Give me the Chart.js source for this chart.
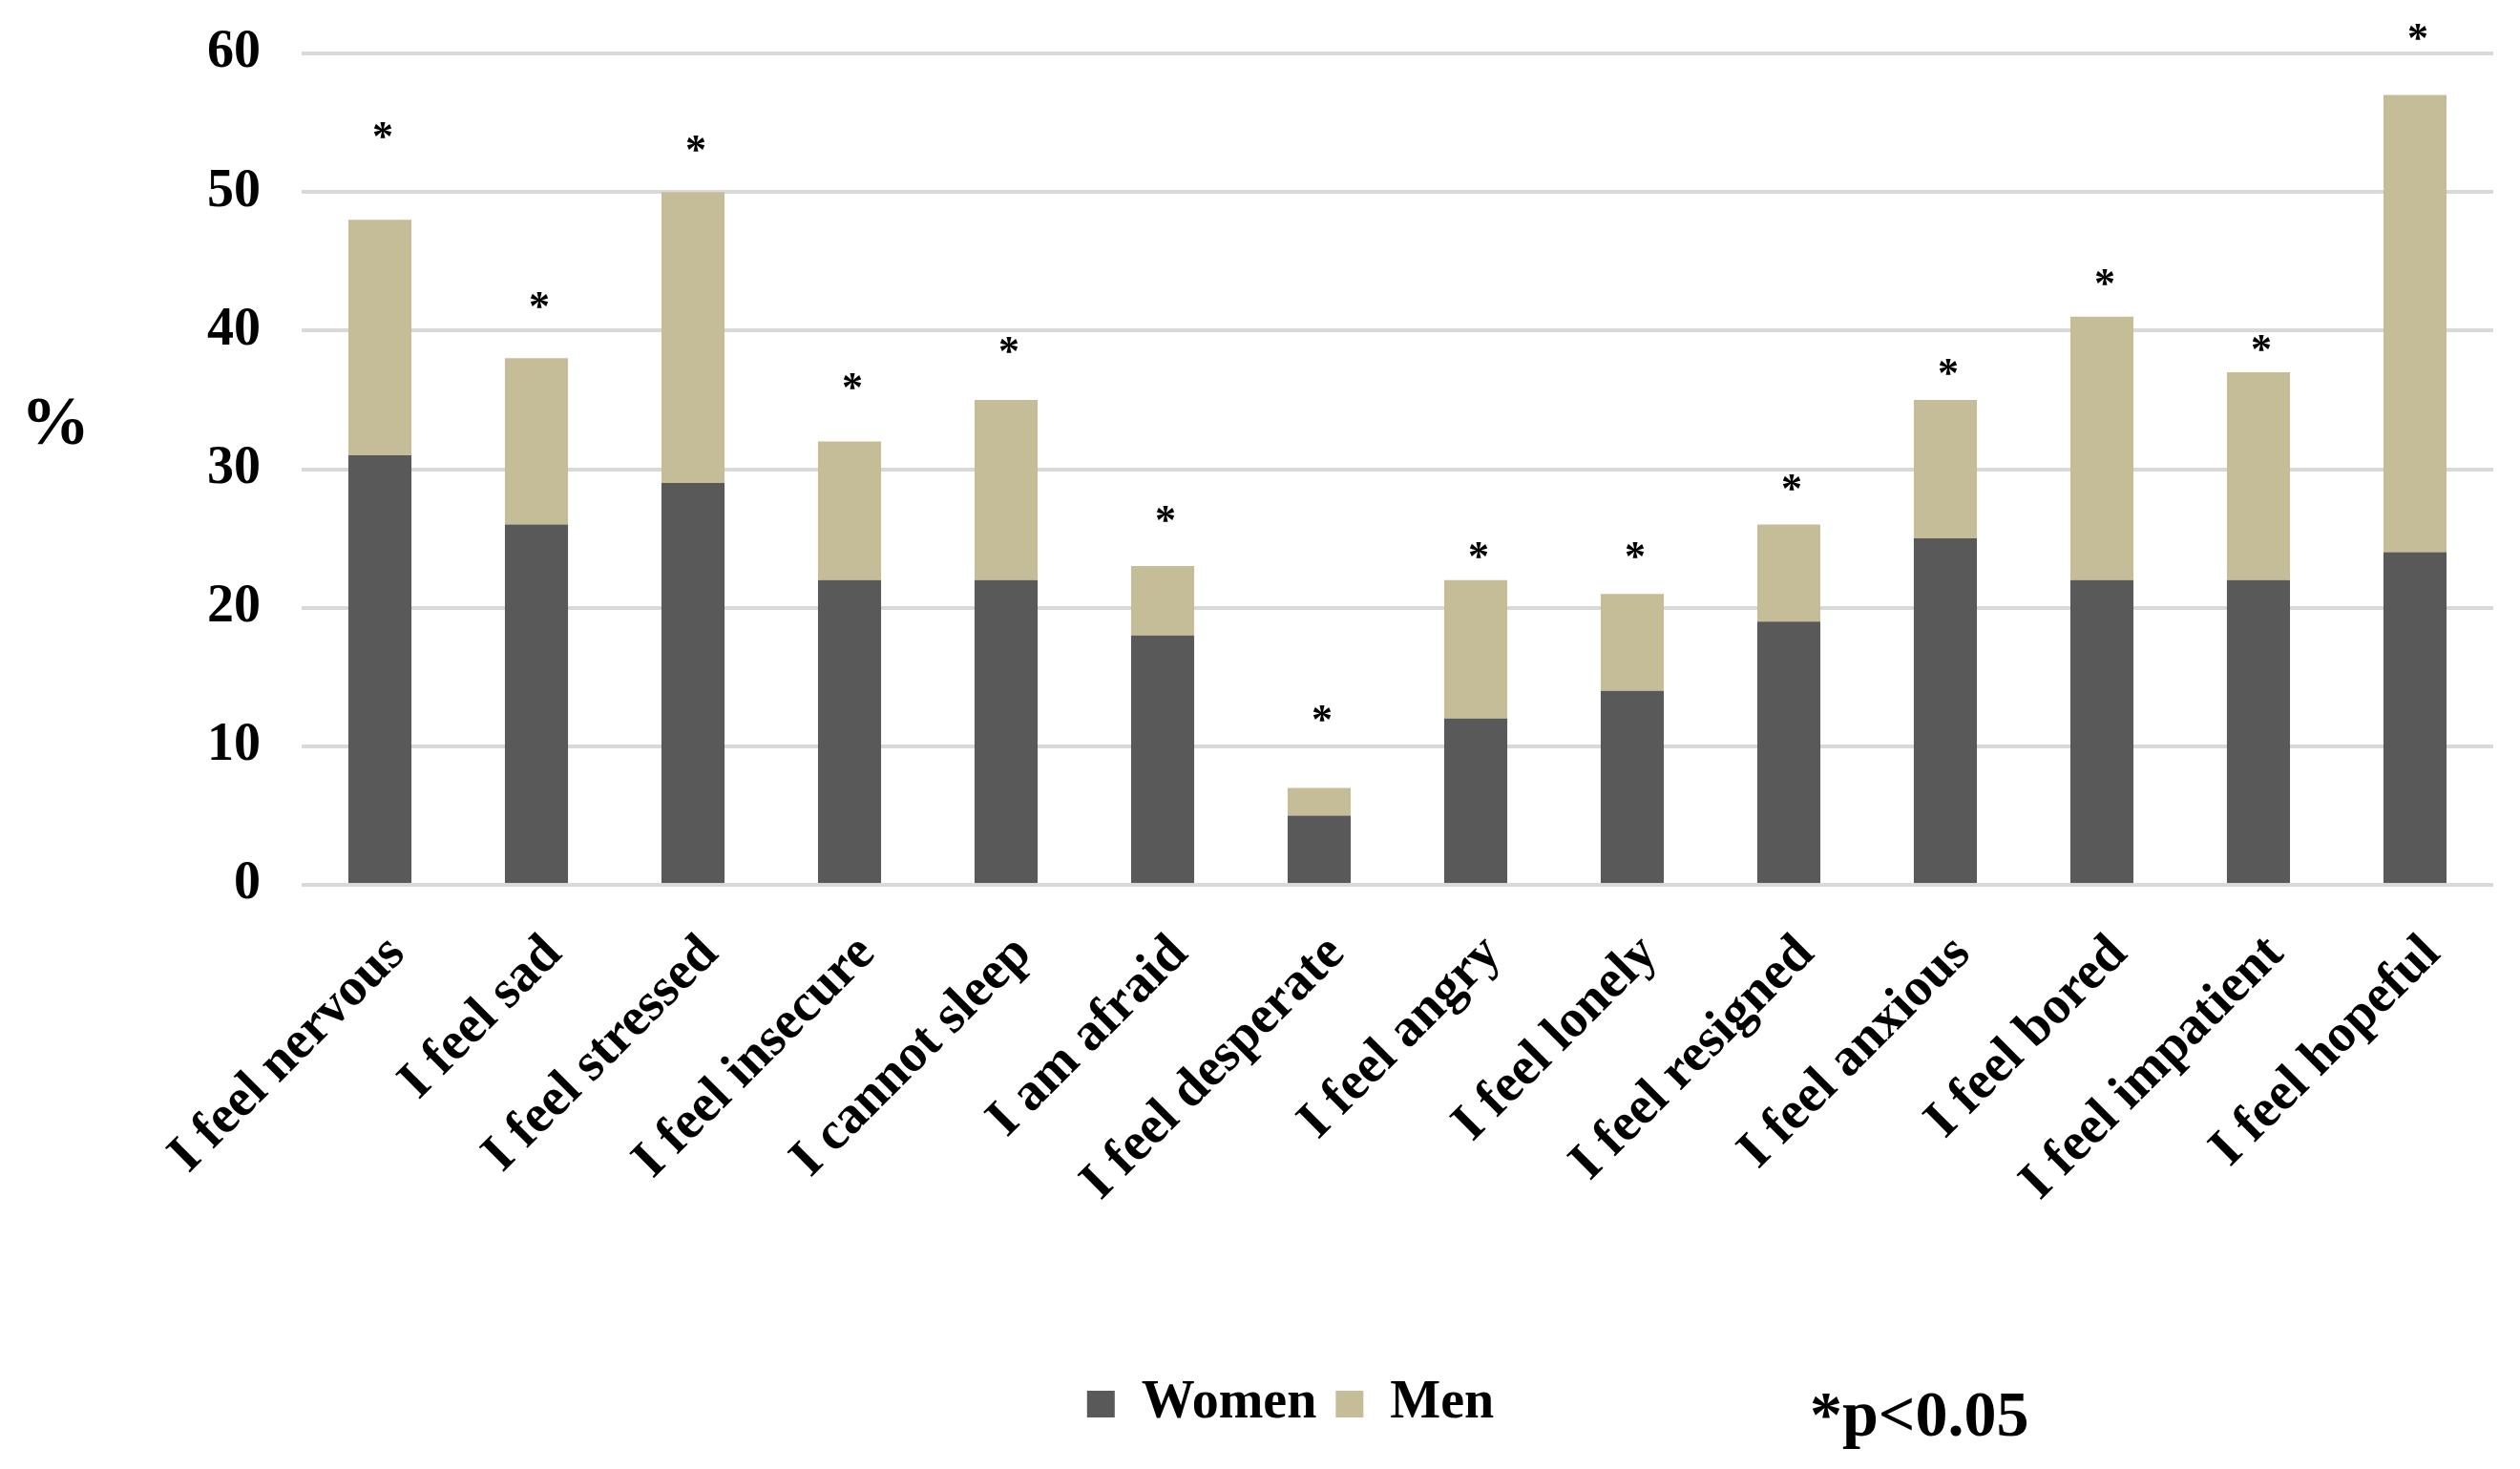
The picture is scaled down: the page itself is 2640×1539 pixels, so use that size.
<!DOCTYPE html>
<html>
<head>
<meta charset="utf-8">
<script src="https://cdn.jsdelivr.net/npm/chart.js@4.4.1/dist/chart.umd.min.js"></script>
<style>
  html, body { margin: 0; padding: 0; background: #fff; }
  #wrap { width: 2640px; height: 1539px; }
</style>
</head>
<body>
<div id="wrap"><canvas id="chart" width="2640" height="1539"></canvas></div>
<script>
const categories = [
  'I feel nervous', 'I feel sad', 'I feel stressed', 'I feel insecure',
  'I cannot sleep', 'I am afraid', 'I feel desperate', 'I feel angry',
  'I feel lonely', 'I feel resigned', 'I feel anxious', 'I feel bored',
  'I feel impatient', 'I feel hopeful'
]
const womenValues = [31, 26, 29, 22, 22, 18, 5, 12, 14, 19, 25, 22, 22, 24]
const menValues = [17, 12, 21, 10, 13, 5, 2, 10, 7, 7, 10, 19, 15, 33]
// where the significance asterisks sit, in % units
const starLevels = [54.5, 42.2, 53.5, 36.4, 39.0, 26.8, 12.4, 24.2, 24.2, 29.1, 37.4, 43.9, 39.1, 61.6]
const yTicks = [0, 10, 20, 30, 40, 50, 60]

const serif = "'Liberation Serif', 'Times New Roman', serif"

const extraText = {
  id: 'extraText',
  afterDatasetsDraw (chart) {
    const { ctx, scales } = chart
    ctx.save()
    ctx.fillStyle = '#000'
    ctx.textAlign = 'center'
    ctx.textBaseline = 'alphabetic'
    ctx.font = `bold 44px ${serif}`
    starLevels.forEach((v, i) => {
      const x = scales.x.getPixelForValue(i) + 3
      const y = scales.y.getPixelForValue(v)
      ctx.fillText('*', x, y + 21)
    })
    ctx.restore()
  },
  afterDraw (chart) {
    const { ctx } = chart
    ctx.save()
    ctx.fillStyle = '#000'
    ctx.textBaseline = 'middle'
    ctx.textAlign = 'center'
    ctx.font = `bold 72px ${serif}`
    ctx.fillText('%', 58, 446)
    ctx.textAlign = 'left'
    ctx.textBaseline = 'alphabetic'
    ctx.font = `bold 68px ${serif}`
    ctx.fillText('*p<0.05', 1896, 1504)
    ctx.restore()
  }
}

new Chart(document.getElementById('chart'), {
  type: 'bar',
  data: {
    labels: categories,
    datasets: [
      { label: 'Women', data: womenValues, backgroundColor: '#595959' },
      { label: 'Men', data: menValues, backgroundColor: '#C4BD97' }
    ]
  },
  options: {
    responsive: false,
    devicePixelRatio: 1,
    animation: false,
    datasets: {
      bar: { categoryPercentage: 1, barPercentage: 0.403 }
    },
    layout: { padding: { left: 92, right: 28, top: 56, bottom: 30 } },
    scales: {
      x: {
        stacked: true,
        grid: { display: false },
        border: { display: false },
        ticks: {
          color: '#000',
          font: { family: serif, size: 56, weight: 'bold' },
          minRotation: 45,
          maxRotation: 45,
          autoSkip: false,
          padding: 32,
          labelOffset: 18
        },
        afterFit: scale => { scale.height = 496 }
      },
      y: {
        stacked: true,
        min: 0,
        max: 60,
        afterBuildTicks: scale => { scale.ticks = yTicks.map(v => ({ value: v })) },
        grid: { color: '#D9D9D9', lineWidth: 4, drawTicks: false },
        border: { display: false },
        ticks: {
          color: '#000',
          font: { family: serif, size: 56, weight: 'bold' },
          padding: 43
        },
        afterFit: scale => {
          scale.width = 224
          scale.paddingTop = 0
          scale.paddingBottom = 0
        }
      }
    },
    plugins: {
      tooltip: { enabled: false },
      legend: {
        position: 'bottom',
        labels: {
          color: '#000',
          font: { family: serif, size: 56, weight: 'bold' },
          boxWidth: 29,
          boxHeight: 28,
          padding: 20
        }
      }
    }
  },
  plugins: [extraText]
})
</script>
</body>
</html>
